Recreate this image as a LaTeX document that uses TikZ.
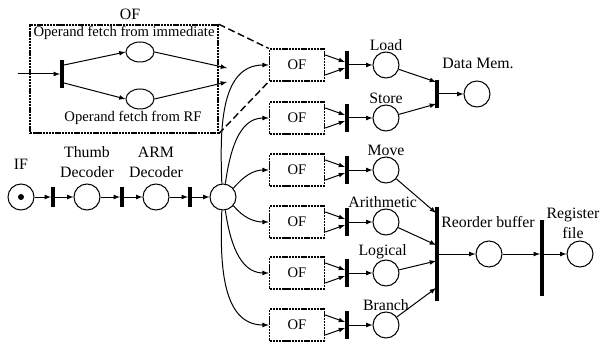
\documentclass[tikz,border=0pt]{standalone}
\usepackage{fontspec}
\setmainfont{Liberation Serif}
\usetikzlibrary{shapes.geometric}

\tikzset{
    place/.style={circle, draw, line width=0.9pt, minimum size=0.78cm, inner sep=0},
    trans/.style={fill=black, inner sep=0, minimum width=2.6pt},
    ofbox/.style={draw, dash pattern=on 2pt off 0.7pt, line width=1.3pt, minimum width=1.65cm, minimum height=0.95cm, font=\fontsize{12.5}{14}\selectfont},
    lbl/.style={font=\fontsize{13.5}{17}\selectfont, inner sep=0, align=center},
    small/.style={font=\fontsize{12.5}{14}\selectfont, inner sep=0},
}

\begin{document}
\begin{tikzpicture}[x=0.03cm, y=-0.03cm, >=latex, line width=0.85pt]
    \useasboundingbox (0,0) rectangle (600,347);
    % inset: inside of one OF box
    \node (inset) [draw, dash pattern=on 2pt off 0.7pt, line width=1.3pt, minimum width=5.64cm, minimum height=3.24cm, inner sep=0] at (124,79) {};
    \node (ofname) [lbl] at (130,14) {OF};
    \node (immtxt) [small] at (124,33) {Operand fetch from immediate};
    \node (rftxt) [small] at (133,118) {Operand fetch from RF};
    \node (ibar) [trans, minimum height=0.84cm] at (62,74) {};
    \node (imm) [draw, ellipse, minimum width=0.84cm, minimum height=0.6cm, inner sep=0] at (140,52) {};
    \node (rf) [draw, ellipse, minimum width=0.84cm, minimum height=0.6cm, inner sep=0] at (140,99) {};
    \coordinate (iin) at (18,74);
    \coordinate (iout1) at (227,68);
    \coordinate (iout2) at (227,82);
    \draw [->] (iin) to (ibar.west);
    \draw [->] ([yshift=0.27cm]ibar.east) to (imm.west);
    \draw [->] ([yshift=-0.27cm]ibar.east) to (rf.west);
    \draw [->] (imm.east) to (iout1);
    \draw [->] (rf.east) to (iout2);

    % fetch and decode
    \node (if) [place] at (21,197) {};
    \node (token) [circle, fill, inner sep=0, minimum size=0.18cm] at (if.center) {};
    \node (b1) [trans, minimum height=0.6cm] at (53,197) {};
    \node (thumb) [place] at (87,197) {};
    \node (b2) [trans, minimum height=0.6cm] at (122,197) {};
    \node (arm) [place] at (156,197) {};
    \node (b3) [trans, minimum height=0.6cm] at (190,197) {};
    \node (fork) [place] at (223,197) {};
    \node (iflbl) [lbl] at (21,164) {IF};
    \node (thumblbl) [lbl] at (87,162) {Thumb\\Decoder};
    \node (armlbl) [lbl] at (156,162) {ARM\\Decoder};
    \draw [->] (if) to (b1);
    \draw [->] (b1) to (thumb);
    \draw [->] (thumb) to (b2);
    \draw [->] (b2) to (arm);
    \draw [->] (arm) to (b3);
    \draw [->] (b3) to (fork);

    % operand fetch boxes
    \node (of1) [ofbox] at (297,65) {OF};
    \node (of2) [ofbox] at (297,118) {OF};
    \node (of3) [ofbox] at (297,170) {OF};
    \node (of4) [ofbox] at (297,222) {OF};
    \node (of5) [ofbox] at (297,273) {OF};
    \node (of6) [ofbox] at (297,325) {OF};
    \draw [->] (fork.95) to [out=92, in=180] (of1.west);
    \draw [->] (fork.80) to [out=82, in=180] (of2.west);
    \draw [->] (fork.40) to [out=50, in=180] (of3.west);
    \draw [->] (fork.-40) to [out=-50, in=180] (of4.west);
    \draw [->] (fork.-80) to [out=-82, in=180] (of5.west);
    \draw [->] (fork.-95) to [out=-92, in=180] (of6.west);
    \draw [very thick, dash pattern=on 6pt off 3pt] (inset.north east) to (of1.north west);
    \draw [very thick, dash pattern=on 6pt off 3pt] (inset.south east) to (of1.south west);

    % execute transitions and places
    \node (t1) [trans, minimum height=0.86cm] at (347,65) {};
    \node (t2) [trans, minimum height=0.86cm] at (347,118) {};
    \node (t3) [trans, minimum height=0.86cm] at (347,170) {};
    \node (t4) [trans, minimum height=0.86cm] at (347,222) {};
    \node (t5) [trans, minimum height=0.86cm] at (347,273) {};
    \node (t6) [trans, minimum height=0.86cm] at (347,325) {};
    \node (load) [place] at (386,65) {};
    \node (store) [place] at (386,118) {};
    \node (move) [place] at (386,170) {};
    \node (arith) [place] at (386,222) {};
    \node (logic) [place] at (386,273) {};
    \node (branch) [place] at (386,325) {};
    \node (loadlbl) [lbl, above] at (load.north) {Load};
    \node (storelbl) [lbl, above] at (store.north) {Store};
    \node (movelbl) [lbl, above] at (move.north) {Move};
    \node (arithlbl) [lbl, above] at ([xshift=-0.1cm]arith.north) {Arithmetic};
    \node (logiclbl) [lbl, above] at ([xshift=-0.1cm]logic.north) {Logical};
    \node (branchlbl) [lbl, above] at (branch.north) {Branch};

    \draw [->] ([yshift=0.3cm]of1.east) to ([yshift=0.09cm]t1.west);
    \draw [->] ([yshift=-0.3cm]of1.east) to ([yshift=-0.09cm]t1.west);
    \draw [->] ([yshift=0.3cm]of2.east) to ([yshift=0.09cm]t2.west);
    \draw [->] ([yshift=-0.3cm]of2.east) to ([yshift=-0.09cm]t2.west);
    \draw [->] ([yshift=0.3cm]of3.east) to ([yshift=0.09cm]t3.west);
    \draw [->] ([yshift=-0.3cm]of3.east) to ([yshift=-0.09cm]t3.west);
    \draw [->] ([yshift=0.3cm]of4.east) to ([yshift=0.09cm]t4.west);
    \draw [->] ([yshift=-0.3cm]of4.east) to ([yshift=-0.09cm]t4.west);
    \draw [->] ([yshift=0.3cm]of5.east) to ([yshift=0.09cm]t5.west);
    \draw [->] ([yshift=-0.3cm]of5.east) to ([yshift=-0.09cm]t5.west);
    \draw [->] ([yshift=0.3cm]of6.east) to ([yshift=0.09cm]t6.west);
    \draw [->] ([yshift=-0.3cm]of6.east) to ([yshift=-0.09cm]t6.west);
    \draw [->] (t1) to (load);
    \draw [->] (t2) to (store);
    \draw [->] (t3) to (move);
    \draw [->] (t4) to (arith);
    \draw [->] (t5) to (logic);
    \draw [->] (t6) to (branch);

    % data memory
    \node (dmbar) [trans, minimum height=0.84cm] at (437,94) {};
    \node (dmem) [place] at (477,94) {};
    \node (dmlbl) [lbl] at (478,63) {Data Mem.};
    \coordinate (dm1) at (436,82);
    \coordinate (dm2) at (436,104);
    \draw [->] (load) to (dm1);
    \draw [->] (store) to (dm2);
    \draw [->] (dmbar) to (dmem);

    % reorder buffer and register file
    \node (robar) [trans, minimum height=2.8cm] at (437,254) {};
    \node (rob) [place] at (489,254) {};
    \node (roblbl) [lbl] at (488,222) {Reorder buffer};
    \coordinate (ro1) at (436,213);
    \coordinate (ro2) at (436,245);
    \coordinate (ro3) at (436,261);
    \coordinate (ro4) at (436,288);
    \draw [->] (move) to (ro1);
    \draw [->] (arith) to (ro2);
    \draw [->] (logic) to (ro3);
    \draw [->] (branch) to (ro4);
    \draw [->] (robar) to (rob);
    \node (rgbar) [trans, minimum height=2.3cm] at (542,258) {};
    \node (reg) [place] at (580,254) {};
    \node (reglbl) [lbl] at (573,223) {Register\\file};
    \draw [->] (rob) to (rgbar.west |- rob);
    \draw [->] (rgbar.east |- reg) to (reg);
\end{tikzpicture}
\end{document}
